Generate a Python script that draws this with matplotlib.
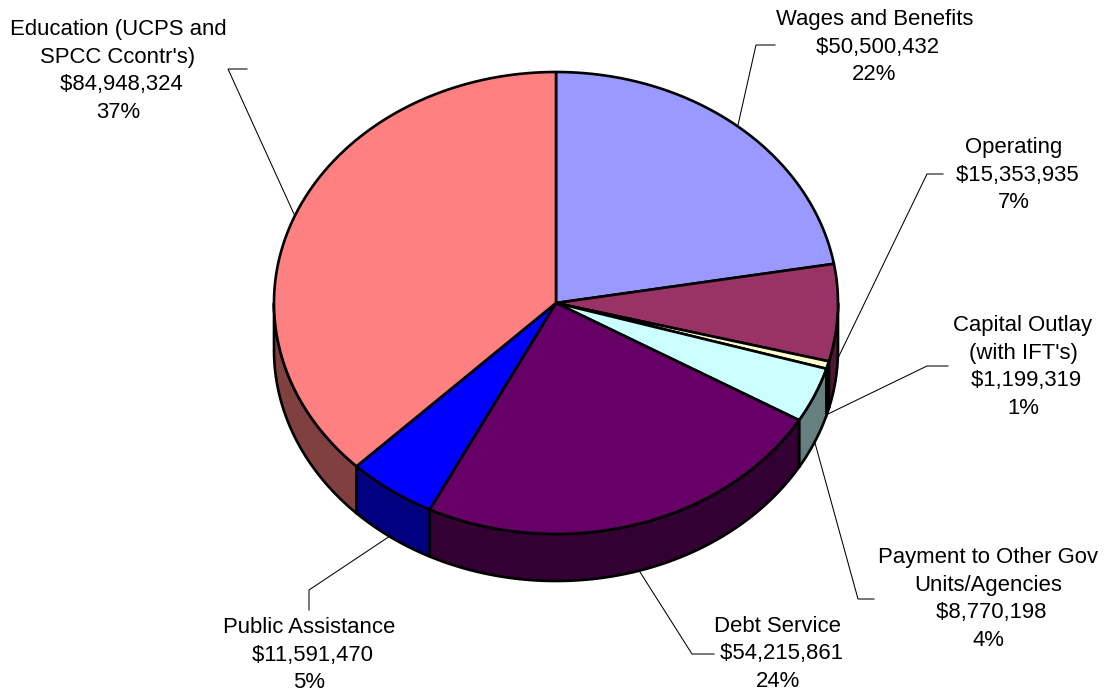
import numpy as np
import matplotlib
matplotlib.use("Agg")
import matplotlib.pyplot as plt
from matplotlib.patches import Polygon

plt.rcParams['font.family'] = ['Liberation Sans', 'DejaVu Sans']

categories = ["Wages and Benefits", "Operating", "Capital Outlay\n(with IFT's)",
              "Payment to Other Gov\nUnits/Agencies", "Debt Service",
              "Public Assistance", "Education (UCPS and\nSPCC Ccontr's)"]
values = [50500432, 15353935, 1199319, 8770198, 54215861, 11591470, 84948324]
percent_labels = ["22%", "7%", "1%", "4%", "24%", "5%", "37%"]
top_colors = ["#9999FF", "#993366", "#FFFFCC", "#CCFFFF", "#660066", "#0000FF", "#FF8080"]
side_colors = ["#4D4D80", "#4D1A33", "#808066", "#668080", "#330033", "#000080", "#804040"]

# layout, in figure pixels
CX, CY, RX, RY, DEPTH = 556, 303, 282, 231, 47
label_pos = [(874.5, 47), (1014, 175), (1023, 367), (988, 599), (778, 654), (309, 655), (118, 71)]
leaders = [
    [(775, 45), (756, 45), (738, 125)],
    [(943, 174), (927, 174), (838, 358)],
    [(948, 366), (927, 366), (828, 414)],
    [(874, 599), (858, 599), (815, 443)],
    [(714, 654), (692, 654), (640, 572)],
    [(309, 610), (309, 590), (390, 536)],
    [(247, 69), (228, 69), (294, 214)],
]

fig = plt.figure(figsize=(11.04, 6.96), dpi=100)
ax = fig.add_axes([0, 0, 1, 1])
ax.set_xlim(0, 1104)
ax.set_ylim(696, 0)
ax.axis('off')

def rim(a0, a1, n=200):
    t = np.linspace(a0, a1, n)
    return CX + RX*np.sin(t), CY - RY*np.cos(t)

fracs = np.array(values, float) / sum(values)
edges = np.concatenate([[0], np.cumsum(fracs)]) * 2*np.pi
LW = 1.9

# side walls: only the front half (pi/2..3pi/2) is visible
for i in range(len(values)):
    a0, a1 = max(edges[i], np.pi/2), min(edges[i+1], 3*np.pi/2)
    if a1 <= a0:
        continue
    x, y = rim(a0, a1)
    pts = np.r_[np.c_[x, y], np.c_[x[::-1], y[::-1] + DEPTH]]
    ax.add_patch(Polygon(pts, closed=True, fc=side_colors[i], ec='black', lw=LW, joinstyle='round', zorder=2))

# top faces
for i in range(len(values)):
    x, y = rim(edges[i], edges[i+1])
    pts = np.r_[[[CX, CY]], np.c_[x, y]]
    ax.add_patch(Polygon(pts, closed=True, fc=top_colors[i], ec='black', lw=LW, joinstyle='round', zorder=3))

for path in leaders:
    xs, ys = zip(*path)
    ax.plot(xs, ys, color='black', lw=0.75, zorder=4, solid_joinstyle='miter')

for cat, val, pct, pos in zip(categories, values, percent_labels, label_pos):
    ax.text(pos[0], pos[1], f"{cat}\n ${val:,}\n{pct}", ha='center', va='center',
            fontsize=15.9, color='black', linespacing=1.40, zorder=5)

fig.savefig("out.png", dpi=100, facecolor='white')
